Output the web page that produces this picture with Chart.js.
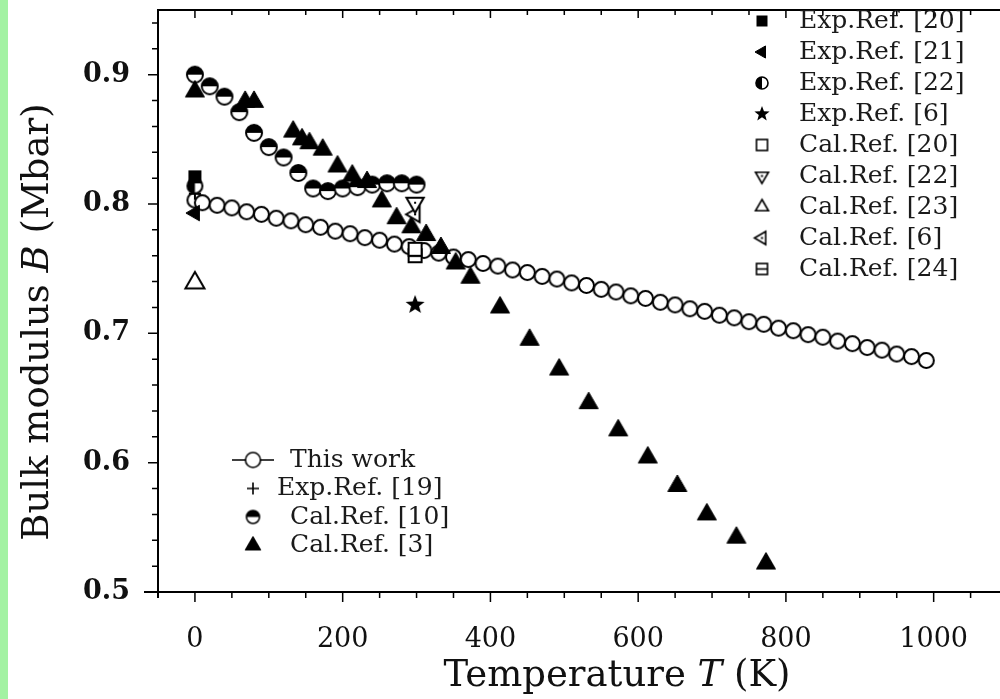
<!DOCTYPE html>
<html>
<head>
<meta charset="utf-8">
<script src="https://cdn.jsdelivr.net/npm/chart.js@4.4.1/dist/chart.umd.min.js"></script>
<style>
html, body { margin: 0; padding: 0; background: #fff; overflow: hidden; }
#wrap { position: relative; width: 1000px; height: 699px; }
#edge { position: absolute; left: 0; top: 0; width: 8px; height: 699px; background: #a3f2a3; }
canvas { display: block; }
</style>
</head>
<body>
<div id="wrap"><canvas id="chart" width="1000" height="699"></canvas><div id="edge"></div></div>
<script>
// temperature (K) and bulk modulus (Mbar)
var thisWorkT = [0, 10, 30, 50, 70, 90, 110, 130, 150, 170, 190, 210, 230, 250, 270, 290, 310, 330, 350, 370,
    390, 410, 430, 450, 470, 490, 510, 530, 550, 570, 590, 610, 630, 650, 670, 690, 710, 730, 750, 770,
    790, 810, 830, 850, 870, 890, 910, 930, 950, 970, 990];
var thisWorkB = [0.803, 0.801, 0.799, 0.797, 0.794, 0.792, 0.789, 0.787, 0.784, 0.782, 0.779, 0.777, 0.774, 0.772, 0.769, 0.767, 0.764, 0.762, 0.759, 0.757,
    0.754, 0.752, 0.749, 0.747, 0.744, 0.742, 0.739, 0.737, 0.734, 0.732, 0.729, 0.727, 0.724, 0.722, 0.719, 0.717, 0.714, 0.712, 0.709, 0.707,
    0.704, 0.702, 0.699, 0.697, 0.694, 0.692, 0.689, 0.687, 0.684, 0.682, 0.679];

var cal10T = [0, 20, 40, 60, 80, 100, 120, 140, 160, 180, 200, 220, 240, 260, 280, 300];
var cal10B = [0.900, 0.891, 0.883, 0.871, 0.855, 0.844, 0.836, 0.824, 0.812, 0.810, 0.812, 0.813, 0.815, 0.816, 0.816, 0.815];

var cal3T = [0, 68, 80, 133, 145, 155, 173, 193, 213, 233, 253, 273, 293, 313, 333, 353, 373,
    413, 453, 493, 533, 573, 613, 653, 693, 733, 773];
var cal3B = [0.887, 0.879, 0.879, 0.856, 0.850, 0.847, 0.842, 0.829, 0.822, 0.817, 0.802, 0.789, 0.782, 0.776, 0.766, 0.754, 0.743,
    0.720, 0.695, 0.672, 0.646, 0.625, 0.604, 0.582, 0.560, 0.542, 0.522];

// single reference points: [T, B]
var exp20 = [0, 0.821];
var exp21 = [0, 0.793];
var exp22 = [0, 0.814];
var exp6 = [298, 0.722];
var exp19 = [0, 0.808];
var calc20 = [298, 0.765];
var calc22 = [298, 0.801];
var calc23 = [0, 0.739];
var calc6 = [298, 0.792];
var calc24 = [298, 0.760];

var xTickLabels = [0, 200, 400, 600, 800, 1000];
var yTickLabels = [0.5, 0.6, 0.7, 0.8, 0.9];

function pts(t, b) {
    return t.map(function (v, i) { return { x: v, y: b[i] }; });
}

// marker images
function marker(kind, r, lw) {
    lw = lw || 2;
    var n = Math.ceil(2 * r + 2 * lw + 4);
    var c = document.createElement('canvas');
    c.width = n; c.height = n;
    var g = c.getContext('2d');
    var m = n / 2;
    g.lineWidth = lw; g.strokeStyle = '#000'; g.fillStyle = '#000';
    function tri(angle) {
        g.beginPath();
        for (var i = 0; i < 3; i++) {
            var a = angle + i * 2 * Math.PI / 3;
            var px = m + r * Math.cos(a), py = m + r * Math.sin(a);
            if (i === 0) g.moveTo(px, py); else g.lineTo(px, py);
        }
        g.closePath();
    }
    function circ() { g.beginPath(); g.arc(m, m, r, 0, 2 * Math.PI); }
    if (kind === 'circOpen') {
        circ(); g.fillStyle = '#fff'; g.fill(); g.stroke();
    } else if (kind === 'circTop') {
        circ(); g.fillStyle = '#fff'; g.fill();
        g.beginPath(); g.arc(m, m, r, Math.PI, 2 * Math.PI); g.closePath(); g.fillStyle = '#000'; g.fill();
        circ(); g.stroke();
    } else if (kind === 'circLeft') {
        circ(); g.fillStyle = '#fff'; g.fill();
        g.beginPath(); g.arc(m, m, r, Math.PI / 2, 3 * Math.PI / 2); g.closePath(); g.fillStyle = '#000'; g.fill();
        circ(); g.stroke();
    } else if (kind === 'sqFill') {
        g.fillRect(m - r, m - r, 2 * r, 2 * r);
    } else if (kind === 'sqOpen' || kind === 'sqLine') {
        g.fillStyle = '#fff'; g.fillRect(m - r, m - r, 2 * r, 2 * r);
        g.strokeRect(m - r, m - r, 2 * r, 2 * r);
        if (kind === 'sqLine') { g.beginPath(); g.moveTo(m - r, m); g.lineTo(m + r, m); g.stroke(); }
    } else if (kind === 'triUpFill' || kind === 'triLeftFill') {
        tri(kind === 'triUpFill' ? -Math.PI / 2 : Math.PI); g.fill(); g.lineWidth = 1; g.stroke();
    } else if (kind === 'triUpOpen' || kind === 'triDownOpen' || kind === 'triLeftOpen') {
        tri(kind === 'triUpOpen' ? -Math.PI / 2 : (kind === 'triDownOpen' ? Math.PI / 2 : Math.PI));
        g.fillStyle = '#fff'; g.fill(); g.stroke();
        if (kind !== 'triUpOpen') { g.fillStyle = '#000'; g.fillRect(m - 1, m - 1, 2, 2); }
    } else if (kind === 'star') {
        g.beginPath();
        for (var k = 0; k < 10; k++) {
            var rr = k % 2 === 0 ? r : r * 0.42;
            var a = -Math.PI / 2 + k * Math.PI / 5;
            var px = m + rr * Math.cos(a), py = m + rr * Math.sin(a);
            if (k === 0) g.moveTo(px, py); else g.lineTo(px, py);
        }
        g.closePath(); g.fill();
    } else if (kind === 'plus') {
        g.beginPath(); g.moveTo(m - r, m); g.lineTo(m + r, m); g.moveTo(m, m - r); g.lineTo(m, m + r); g.stroke();
    }
    return c;
}

function ds(label, data, kind, r, legendR, extra) {
    var d = {
        label: label,
        data: data,
        pointStyle: marker(kind, r),
        legendMarker: marker(kind, legendR, 1.6),
        pointRadius: 5,
        showLine: false,
        borderColor: '#000',
        backgroundColor: '#000'
    };
    for (var k in extra || {}) d[k] = extra[k];
    return d;
}

var datasets = [
    ds('Exp.Ref. [20]', [{ x: exp20[0], y: exp20[1] }], 'sqFill', 6.5, 5.5),
    ds('Exp.Ref. [21]', [{ x: exp21[0], y: exp21[1] }], 'triLeftFill', 9, 7),
    ds('Exp.Ref. [22]', [{ x: exp22[0], y: exp22[1] }], 'circLeft', 7.5, 6),
    ds('Exp.Ref. [6]', [{ x: exp6[0], y: exp6[1] }], 'star', 10, 8),
    ds('Exp.Ref. [19]', [{ x: exp19[0], y: exp19[1] }], 'plus', 6, 6),
    ds('Cal.Ref. [20]', [{ x: calc20[0], y: calc20[1] }], 'sqOpen', 6.5, 5.5),
    ds('Cal.Ref. [22]', [{ x: calc22[0], y: calc22[1] }], 'triDownOpen', 10, 7.5),
    ds('Cal.Ref. [23]', [{ x: calc23[0], y: calc23[1] }], 'triUpOpen', 11, 7.5),
    ds('Cal.Ref. [6]', [{ x: calc6[0], y: calc6[1] }], 'triLeftOpen', 9, 7.5),
    ds('Cal.Ref. [24]', [{ x: calc24[0], y: calc24[1] }], 'sqLine', 6.5, 5.5),
    ds('Cal.Ref. [3]', pts(cal3T, cal3B), 'triUpFill', 11, 9),
    ds('Cal.Ref. [10]', pts(cal10T, cal10B), 'circTop', 8, 6.5),
    ds('This work', pts(thisWorkT, thisWorkB), 'circOpen', 7.5, 7.5, { showLine: true, borderWidth: 1.5 })
];

var serif = '"DejaVu Serif", "Liberation Serif", serif';

// frame and tick marks
var framePlugin = {
    id: 'frame',
    beforeDatasetsDraw: function (chart) {
        var c = chart.ctx, a = chart.chartArea, x = chart.scales.x, y = chart.scales.y;
        c.save();
        c.strokeStyle = '#000';
        c.lineWidth = 2;
        c.beginPath();
        c.moveTo(a.left - 14, a.bottom); c.lineTo(chart.width, a.bottom);
        c.moveTo(a.left, a.bottom + 6); c.lineTo(a.left, a.top);
        c.lineTo(chart.width, a.top);
        c.stroke();
        c.lineWidth = 1.5;
        c.beginPath();
        for (var t = -50; t <= 1050; t += 50) {
            var px = x.getPixelForValue(t);
            if (px < a.left + 1) continue;
            var major = xTickLabels.indexOf(t) >= 0;
            c.moveTo(px, a.bottom); c.lineTo(px, a.bottom + (major ? 10 : 6));
            c.moveTo(px, a.top); c.lineTo(px, a.top + (major ? 8 : 5));
        }
        for (var k = 25; k <= 47; k++) {
            var v = k / 50;
            var py = y.getPixelForValue(v);
            var maj = k % 5 === 0;
            c.moveTo(a.left, py); c.lineTo(a.left - (maj ? 10 : 6), py);
        }
        c.stroke();
        c.restore();
    }
};

// axis titles with italic symbols
function mixed(c, parts, cx, cy) {
    var w = 0;
    parts.forEach(function (p) { c.font = p[1]; w += c.measureText(p[0]).width; });
    var xPos = cx - w / 2;
    parts.forEach(function (p) {
        c.font = p[1];
        c.fillText(p[0], xPos, cy);
        xPos += c.measureText(p[0]).width;
    });
}

var titlePlugin = {
    id: 'titles',
    afterDraw: function (chart) {
        var c = chart.ctx;
        var up = '37px ' + serif, it = 'italic 37px ' + serif;
        c.save();
        c.fillStyle = '#111';
        c.textBaseline = 'middle';
        c.textAlign = 'left';
        mixed(c, [['Temperature ', up], ['T', it], [' (K)', up]], 617, 676);
        c.translate(38, 322);
        c.rotate(-Math.PI / 2);
        mixed(c, [['Bulk modulus ', up], ['B', it], [' (Mbar)', up]], 0, 0);
        c.restore();
    }
};

// the two legend boxes
var legendGroups = [
    { mx: 762, tx: 799, y0: 21, dy: 31, labels: ['Exp.Ref. [20]', 'Exp.Ref. [21]', 'Exp.Ref. [22]', 'Exp.Ref. [6]',
        'Cal.Ref. [20]', 'Cal.Ref. [22]', 'Cal.Ref. [23]', 'Cal.Ref. [6]', 'Cal.Ref. [24]'] },
    { mx: 253, tx: 290, y0: 460, dy: 28.5, labels: ['This work', 'Exp.Ref. [19]', 'Cal.Ref. [10]', 'Cal.Ref. [3]'] }
];

var legendPlugin = {
    id: 'legends',
    afterDraw: function (chart) {
        var c = chart.ctx;
        c.save();
        c.font = '25px ' + serif;
        c.fillStyle = '#1a1a1a';
        c.textBaseline = 'middle';
        legendGroups.forEach(function (g) {
            g.labels.forEach(function (lab, i) {
                var d = chart.data.datasets.filter(function (s) { return s.label === lab; })[0];
                var yy = g.y0 + i * g.dy;
                if (d.showLine) {
                    c.strokeStyle = '#000'; c.lineWidth = 1.5;
                    c.beginPath(); c.moveTo(g.mx - 21, yy); c.lineTo(g.mx + 21, yy); c.stroke();
                }
                var im = d.legendMarker;
                c.drawImage(im, g.mx - im.width / 2, yy - im.height / 2);
                var tx = lab === 'Exp.Ref. [19]' ? g.tx - 13 : g.tx;
                c.fillText(lab, tx, yy);
            });
        });
        c.restore();
    }
};

var ctx = document.getElementById('chart').getContext('2d');
var chart = new Chart(ctx, {
    type: 'scatter',
    data: { datasets: datasets },
    options: {
        responsive: false,
        animation: false,
        events: [],
        layout: { padding: { top: 10, right: 0, bottom: 0, left: 0 } },
        plugins: { legend: { display: false }, tooltip: { enabled: false } },
        scales: {
            x: {
                type: 'linear',
                min: -50,
                max: 1081,
                afterFit: function (s) { s.height = 107; s.paddingLeft = 0; s.paddingRight = 0; },
                grid: { display: false },
                border: { display: false },
                ticks: {
                    stepSize: 50,
                    autoSkip: false,
                    maxRotation: 0,
                    padding: 24,
                    color: '#111',
                    font: { family: serif, size: 27 },
                    callback: function (v) { return xTickLabels.indexOf(v) >= 0 ? String(v) : ''; }
                }
            },
            y: {
                type: 'linear',
                min: 0.5,
                max: 0.95,
                afterFit: function (s) { s.width = 158; s.paddingTop = 0; s.paddingBottom = 0; },
                grid: { display: false },
                border: { display: false },
                ticks: {
                    stepSize: 0.02,
                    autoSkip: false,
                    padding: 20,
                    color: '#111',
                    font: { family: serif, size: 27, weight: 'bold' },
                    callback: function (v) {
                        var hit = yTickLabels.filter(function (l) { return Math.abs(l - v) < 1e-6; });
                        return hit.length ? hit[0].toFixed(1) : '';
                    }
                }
            }
        }
    },
    plugins: [framePlugin, titlePlugin, legendPlugin]
});
</script>
</body>
</html>
